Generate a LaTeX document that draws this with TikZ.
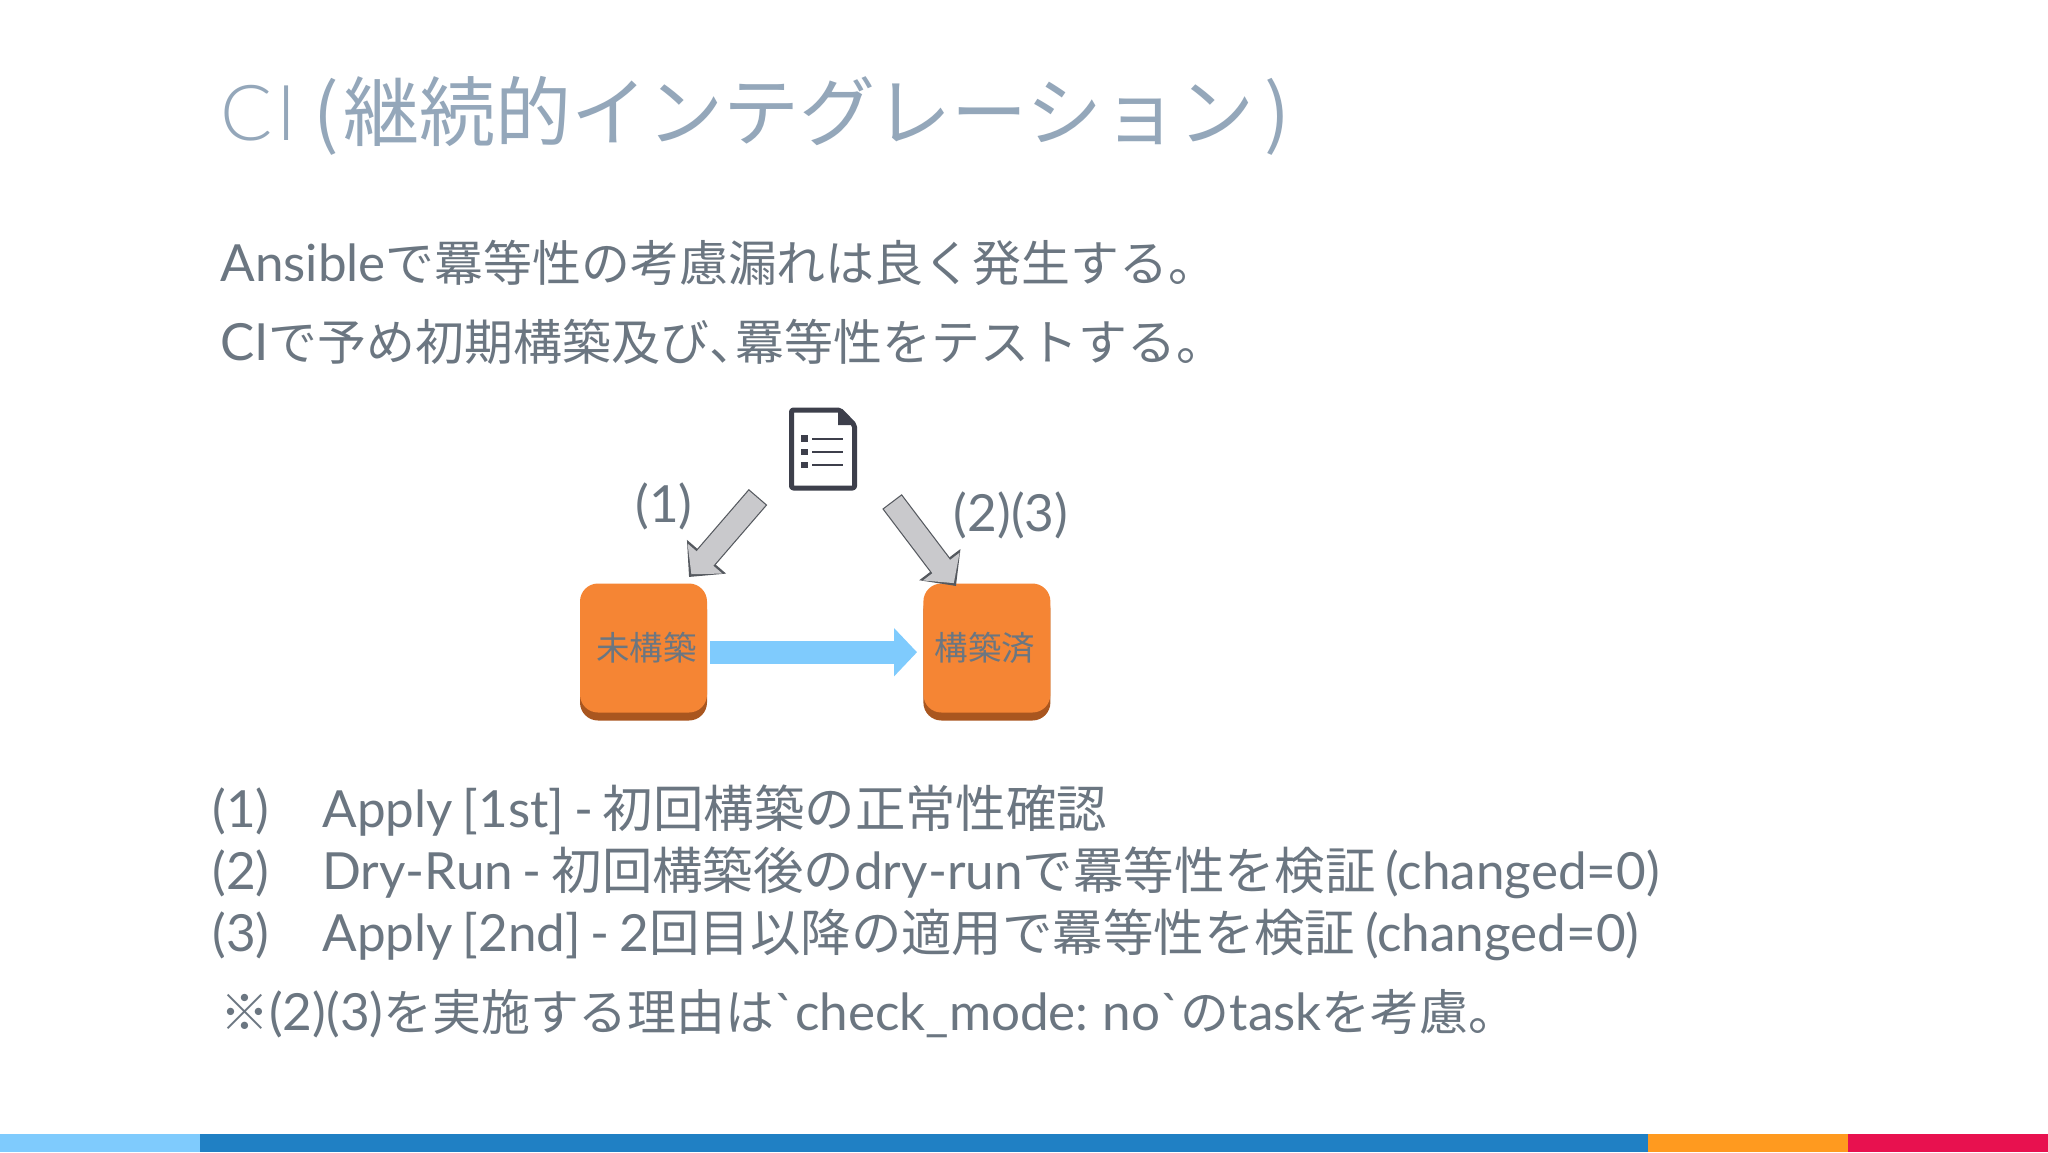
\documentclass[tikz,border=0pt]{standalone}
\usepackage{fontspec}
\usetikzlibrary{arrows.meta,positioning,shadows}
\setmainfont[WordSpace=0.75]{Lato}
\newfontfamily\plainlato{Lato}
\newfontfamily\titlelatin{Lato Light}
\newfontfamily\jpfont[Scale=0.985]{Noto Sans CJK JP}
\newfontfamily\jpintrofont[Scale=0.955]{Noto Sans CJK JP}
\newcommand{\jp}[1]{{\jpfont #1}}
\newcommand{\jpintro}[1]{{\jpintrofont #1}}
\newcommand{\backquote}{{\plainlato\symbol{96}}}
\newcommand{\statetext}[1]{\raisebox{-1.3pt}{\jp{#1}}}
\definecolor{slidetext}{HTML}{6B7681}
\definecolor{slidetitle}{HTML}{94A7BA}
\definecolor{boxorange}{HTML}{F58534}
\definecolor{boxlip}{HTML}{A9561F}
\definecolor{doccolor}{HTML}{3D3F4B}
\definecolor{linkgray}{HTML}{C9C9CC}
\definecolor{linkedge}{HTML}{55595F}
\definecolor{linkblue}{HTML}{7FCBFD}
\definecolor{bandblue}{HTML}{2080C4}
\definecolor{bandorange}{HTML}{FF9A1F}
\definecolor{bandred}{HTML}{E8114F}
\tikzset{
	titletext/.style={anchor=west,inner sep=0pt,text=slidetitle,font=\fontsize{38.6}{38.6}\selectfont},
	bodytext/.style={anchor=west,inner sep=0pt,text=slidetext,font=\fontsize{25.6}{25.6}\selectfont},
	statebox/.style={
		draw=none,fill=boxorange,rounded corners=9pt,minimum width=63.5pt,minimum height=64.5pt,
		inner sep=0pt,text=slidetext,font=\fontsize{17}{17}\selectfont,
		copy shadow={shadow xshift=0pt,shadow yshift=-4pt,fill=boxlip,draw=none},
	},
	graylink/.style={
		draw=linkgray,line width=11pt,shorten >=1.8pt,shorten <=.6pt,
		-{Triangle[width=22.4pt,length=10.4pt]},
		preaction={draw=linkedge,line width=12.2pt,shorten >=0pt,shorten <=0pt,
			-{Triangle[width=25pt,length=13.4pt]}},
	},
	bluelink/.style={
		draw=linkblue,line width=11.7pt,shorten >=3pt,shorten <=1.5pt,
		-{Triangle[width=23.5pt,length=11.5pt]},
	},
}
\begin{document}
\begin{tikzpicture}[x=.5pt,y=-.5pt]
	\useasboundingbox (0,0) rectangle (2048,1152);
	\fill[white] (0,0) rectangle (2048,1152);
	% text
	\node[titletext] (title) at (220,116) {{\titlelatin C\kern2pt I}\kern8.5pt\jp{(\kern2pt 継続的インテグレーション\kern5pt)}};
	\node[bodytext] (intro1) at (220,263) {Ansible\jpintro{で羃等性の考慮漏れは良く発生する。}};
	\node[bodytext] (intro2) at (220,342) {CI\jpintro{で予め初期構築及び、\kern-.45em 羃等性をテストする。}};
	%
	\node[bodytext] (num1) at (212,811) {(1)};
	\node[bodytext] (num2) at (212,873) {(2)};
	\node[bodytext] (num3) at (212,935) {(3)};
	\node[bodytext] (item1) at (322,811) {Apply [1st] - \jp{初回構築の正常性確認}};
	\node[bodytext] (item2) at (322,873) {Dry-Run - \jp{初回構築後の}dry-run\jp{で羃等性を検証} (changed=0)};
	\node[bodytext] (item3) at (322,935) {Apply [2nd] - 2\jp{回目以降の適用で羃等性を検証} (changed=0)};
	\node[bodytext] (note) at (220,1014) {\jpintro{※}(2)(3)\jpintro{を実施する理由は}\backquote check\_mode: no\backquote\jpintro{の}task\jpintro{を考慮。}};
	% states
	\node[statebox] (unbuilt) at (643.5,648) {\kern3pt\statetext{未構築}};
	\node[statebox,right=107.8pt of unbuilt] (built) {\statetext{構築済}\kern2pt};
	\draw[bluelink] ([yshift=-2.1pt]unbuilt.east) -- ([yshift=-2.1pt]built.west);
	% playbook
	\draw[doccolor,fill=white,line width=2.5pt,rounded corners=1pt,line join=round]
		(791.5,410) -- (840,410) -- (854.5,425) -- (854.5,488) -- (791.5,488) -- cycle;
	\fill[doccolor] (838,408) -- (856,425) -- (838,425) -- cycle;
	\foreach \y in {438.5,452,465} {
		\fill[doccolor] (801,\y-3.3) rectangle (808,\y+3.3);
		\draw[doccolor,line width=1pt] (812,\y) -- (843,\y);
	}
	\coordinate (leftfrom) at (758,497);
	\coordinate (leftto) at (689,577);
	\coordinate (rightfrom) at (892,501.5);
	\coordinate (rightto) at (956,586);
	\draw[graylink] (leftfrom) -- (leftto);
	\draw[graylink] (rightfrom) -- (rightto);
	\node[bodytext,anchor=center] (label1) at (664,506.5) {(1)};
	\node[bodytext,anchor=center] (label2) at (1011,515) {(2)(3)};
	% colour band
	\fill[linkblue] (0,1134) rectangle (200,1152);
	\fill[bandblue] (200,1134) rectangle (1648,1152);
	\fill[bandorange] (1648,1134) rectangle (1848,1152);
	\fill[bandred] (1848,1134) rectangle (2048,1152);
\end{tikzpicture}
\end{document}
